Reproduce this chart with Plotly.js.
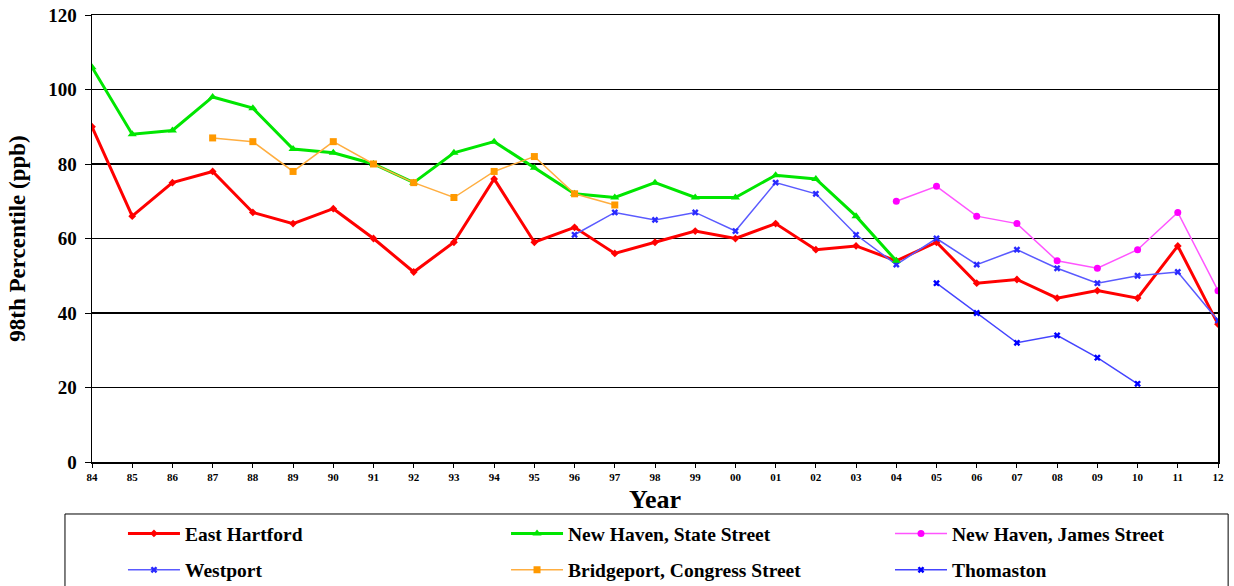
<!DOCTYPE html>
<html>
<head>
<meta charset="utf-8">
<script src="https://cdn.plot.ly/plotly-3.0.1.min.js"></script>
<style>html,body{margin:0;padding:0;background:#fff}#chart{width:1234px;height:586px}</style>
</head>
<body>
<div id="chart"></div>
<script>
const years = ['84','85','86','87','88','89','90','91','92','93','94','95','96','97','98','99','00','01','02','03','04','05','06','07','08','09','10','11','12'];
const eastHartford = [90,66,75,78,67,64,68,60,51,59,76,59,63,56,59,62,60,64,57,58,54,59,48,49,44,46,44,58,37];
const newHavenState = [106,88,89,98,95,84,83,80,75,83,86,79,72,71,75,71,71,77,76,66,54,null,null,null,null,null,null,null,null];
const newHavenJames = [null,null,null,null,null,null,null,null,null,null,null,null,null,null,null,null,null,null,null,null,70,74,66,64,54,52,57,67,46];
const westport = [null,null,null,null,null,null,null,null,null,null,null,null,61,67,65,67,62,75,72,61,53,60,53,57,52,48,50,51,38];
const bridgeport = [null,null,null,87,86,78,86,80,75,71,78,82,72,69,null,null,null,null,null,null,null,null,null,null,null,null,null,null,null];
const thomaston = [null,null,null,null,null,null,null,null,null,null,null,null,null,null,null,null,null,null,null,null,null,48,40,32,34,28,21,null,null];

const serif = 'Liberation Serif, Times New Roman, serif';
function tr(name, y, color, width, symbol, size, legend, lineColor, mlw) {
  return {
    type: 'scatter', mode: 'lines+markers', name: name, x: years, y: y,
    line: {color: lineColor || color, width: width},
    marker: {color: color, symbol: symbol, size: size, line: {color: color, width: mlw || 0}},
    legend: legend, legendgroup: name, connectgaps: false
  };
}
const data = [
  tr('East Hartford', eastHartford, '#ff0000', 3, 'diamond', 6, 'legend'),
  tr('Westport', westport, '#2a2aff', 1.5, 'x', 6, 'legend', '#5a5aff'),
  tr('New Haven, State Street', newHavenState, '#00e600', 3, 'triangle-up', 8, 'legend2'),
  tr('Bridgeport, Congress Street', bridgeport, '#ff9900', 1.5, 'square', 7, 'legend2', '#ffae40'),
  tr('New Haven, James Street', newHavenJames, '#ff00ff', 1.5, 'circle', 7, 'legend3', '#ff55ff'),
  tr('Thomaston', thomaston, '#0000ff', 1.5, 'x', 6, 'legend3', '#4444ff')
];
const legFont = {family: serif, size: 19.5, color: '#000', weight: 'bold'};
function leg(x) {
  return {x: x, xanchor: 'left', y: -0.117, yanchor: 'top', orientation: 'v',
    font: legFont, bgcolor: 'rgba(0,0,0,0)', borderwidth: 0, tracegroupgap: 8,
    traceorder: 'grouped', itemwidth: 52};
}
const layout = {
  width: 1234, height: 586,
  margin: {l: 92, r: 16, t: 15, b: 124, autoexpand: false},
  paper_bgcolor: '#fff', plot_bgcolor: '#fff',
  font: {family: serif, color: '#000'},
  showlegend: true,
  xaxis: {
    type: 'category', range: [0, 28], showgrid: false, automargin: false,
    showline: true, linecolor: '#000', linewidth: 1.5, mirror: true,
    ticks: 'outside', ticklen: 4, tickcolor: '#000',
    tickfont: {family: serif, size: 11, color: '#000', weight: 'bold'},
    title: {text: '<b>Year</b>', font: {family: serif, size: 26, color: '#000'}, standoff: 8},
    zeroline: false, fixedrange: true
  },
  yaxis: {
    range: [0, 120], dtick: 20, showgrid: true, gridcolor: '#000', gridwidth: 1.2, automargin: false,
    showline: true, linecolor: '#000', linewidth: 1.5, mirror: true,
    ticks: 'outside', ticklen: 6, tickcolor: '#000', ticklabelstandoff: 4,
    tickfont: {family: serif, size: 19, color: '#000', weight: 'bold'},
    title: {text: '<b>98th Percentile (ppb)</b>', font: {family: serif, size: 23, color: '#000'}, standoff: 16},
    zeroline: false, fixedrange: true
  },
  legend: leg(0.0275),
  legend2: leg(0.3677),
  legend3: leg(0.7087),
  shapes: [{type: 'rect', xref: 'paper', yref: 'paper', x0: -0.024, x1: 1.009, y0: -0.1163, y1: -0.4,
    line: {color: '#000', width: 1}, fillcolor: 'rgba(0,0,0,0)', layer: 'below'}]
};
Plotly.newPlot('chart', data, layout, {displayModeBar: false, staticPlot: true});
</script>
</body>
</html>
